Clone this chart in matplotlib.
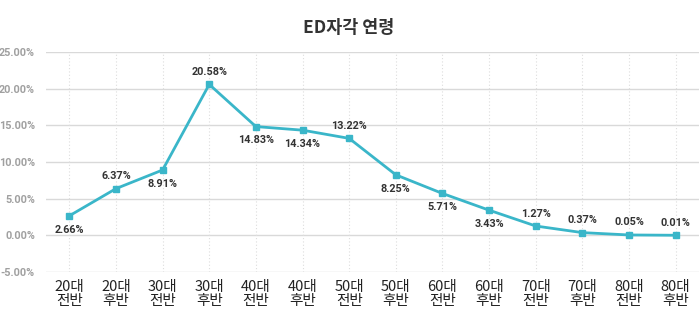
import matplotlib
matplotlib.use("Agg")
import matplotlib.pyplot as plt

categories = ["20대\n전반", "20대\n후반", "30대\n전반", "30대\n후반", "40대\n전반", "40대\n후반", "50대\n전반",
              "50대\n후반", "60대\n전반", "60대\n후반", "70대\n전반", "70대\n후반", "80대\n전반", "80대\n후반"]
values = [2.66, 6.37, 8.91, 20.58, 14.83, 14.34, 13.22, 8.25, 5.71, 3.43, 1.27, 0.37, 0.05, 0.01]
label_above = [False, True, False, True, False, False, True, False, False, False, True, True, True, True]
yticks = [-5, 0, 5, 10, 15, 20, 25]

plt.rcParams['font.family'] = ['Noto Sans CJK KR', 'DejaVu Sans']

fig = plt.figure(figsize=(6.99, 3.26), dpi=100)
ax = fig.add_axes([46/699, 1-272/326, 1-46/699, 220/326])

x = list(range(len(values)))
color = '#3ab6c9'
ax.plot(x, values, color=color, lw=2, marker='s', ms=5, zorder=3)

for i, (v, up) in enumerate(zip(values, label_above)):
    off = 9 if up else -10
    ax.annotate(f"{v:.2f}%", (i, v), xytext=(0, off), textcoords='offset points',
                ha='center', va='center', fontsize=7.8,
                family=['Roboto', 'DejaVu Sans'], fontweight='bold', color='#333333')

ax.set_xlim(-0.5, len(values) - 0.5)
ax.set_ylim(-5, 25)
ax.set_yticks(yticks)
ax.set_yticklabels([f"{t:.2f}%" for t in yticks], family=['Roboto', 'DejaVu Sans'],
                   fontweight='bold', fontsize=7.8, color='#a0a0a0')
ax.set_xticks(x)
ax.set_xticklabels(categories, fontsize=10.5, color='#222222', linespacing=0.95)
ax.tick_params(axis='both', length=0)
ax.tick_params(axis='y', pad=8)
ax.tick_params(axis='x', pad=6)

for t in yticks:
    ax.axhline(t, color='#d9d9d9', lw=1, zorder=1)
for xi in x:
    ax.axvline(xi, color='#dddddd', lw=0.8, ls=(0, (1, 2)), zorder=1)

for s in ax.spines.values():
    s.set_visible(False)

fig.text(349/699, 1-28/326, "ED자각 연령", ha='center', va='center', fontsize=12.5,
         fontweight='bold', color='#333333')

fig.savefig("out.png", dpi=100)
